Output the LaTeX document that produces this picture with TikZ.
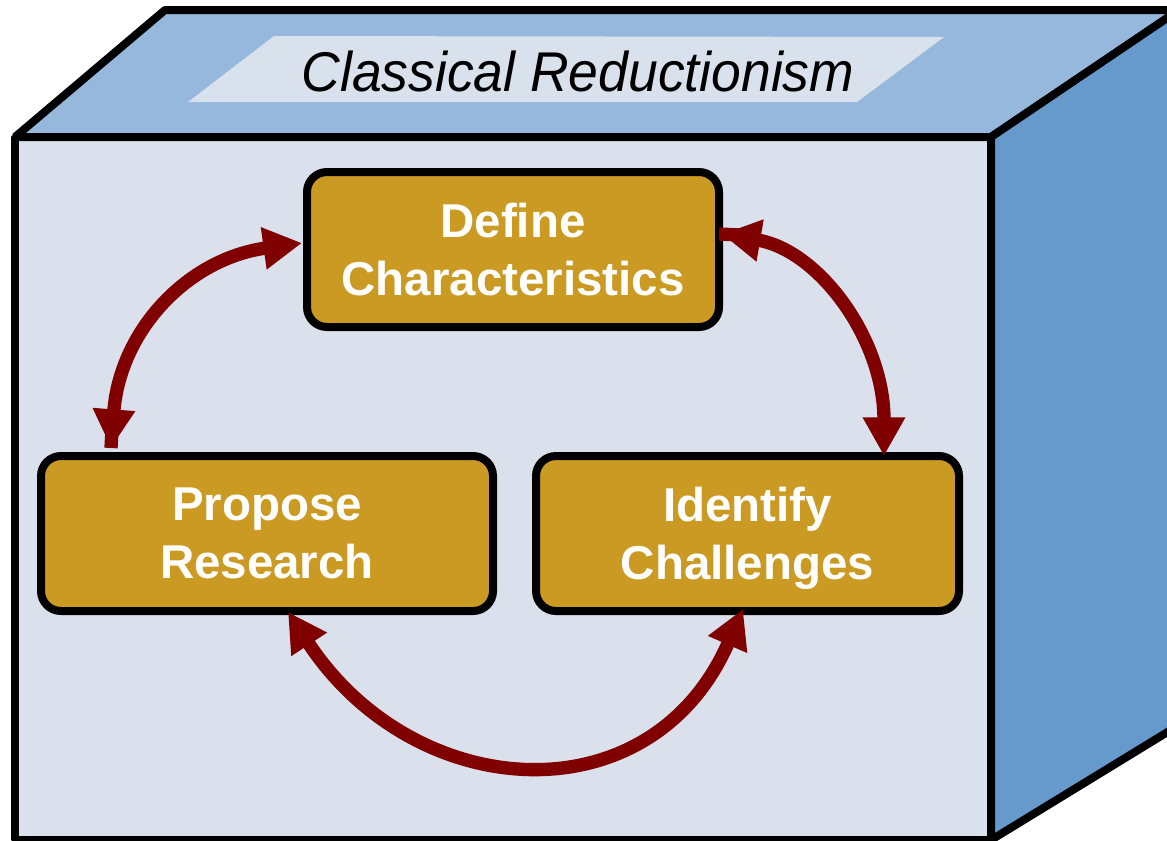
\documentclass[tikz,border=0pt]{standalone}
\usepackage{fontspec}
\setmainfont{Liberation Sans}
\usetikzlibrary{arrows.meta,calc}
\definecolor{topface}{HTML}{95B8DC}
\definecolor{frontface}{HTML}{DAE1ED}
\definecolor{sideface}{HTML}{6699CC}
\definecolor{titlebg}{HTML}{D9E1EC}
\definecolor{boxfill}{HTML}{CA9A22}
\definecolor{arrowred}{HTML}{800000}
\begin{document}
\begin{tikzpicture}[x=0.75pt,y=-0.75pt,
  cube/.style={draw=black,line width=6pt,line join=bevel},
  stepbox/.style={draw=black,line width=6pt,fill=boxfill,rounded corners=15pt,
    inner sep=0pt,align=center,text=white,minimum height=116.25pt,
    font=\fontsize{35.6}{43.5}\bfseries\selectfont},
  conn/.style={draw=arrowred,line width=10pt},
  tips/.style={{Triangle[length=29pt,width=30pt]}-{Triangle[length=29pt,width=30pt]}}
]
\useasboundingbox (0,0) rectangle (1167,840);
\clip (0,0) rectangle (1167,840);
% cube
\path[cube,fill=frontface] (15,137) rectangle (991,840);
\path[cube,fill=topface] (15,137) -- (165,10) -- (1179,10) -- (991,137) -- cycle;
\path[cube,fill=sideface] (991,137) -- (1179,10) -- (1179,725) -- (991,840) -- cycle;
% title
\fill[titlebg] (274,36) -- (944,37) -- (857,102) -- (188,102) -- cycle;
\node[font=\fontsize{42}{50}\itshape\selectfont,anchor=base,inner sep=0pt] (title) at (578,91) {\scalebox{0.955}[1]{Classical Reductionism}};
% boxes
\node[stepbox,minimum width=309pt] (def) at (513,249.5) {Define\\Characteristics};
\node[stepbox,minimum width=339pt] (prop) at (267,533.5) {Propose\\Research};
\node[stepbox,minimum width=317.25pt] (ident) at (747.5,533.5) {Identify\\\raisebox{0pt}[\height][0pt]{Challenges}};
% connector end points
\coordinate (la) at ($(prop.north west)+(74,-4)$);
\coordinate (lb) at ($(def.west)+(-1,-6.5)$);
\coordinate (ra) at ($(def.east)+(-1,-15.5)$);
\coordinate (rb) at ($(ident.north)+(136.5,4)$);
\coordinate (ba) at ($(prop.south)+(21,-3)$);
\coordinate (bb) at ($(ident.south)+(-4.5,-6)$);
% connectors
\draw[conn] (la) -- ++(1,-18);
\draw[conn] ($(ra)+(-3,0)$) -- ++(21,1);
\draw[conn,tips] (la) .. controls +(9,-117) and +(-115,16) .. (lb);
\draw[conn,tips] (ra) .. controls +(97,16.5) and +(0,-117) .. (rb);
\draw[conn,tips] (ba) .. controls +(126,192) and +(-92,211) .. (bb);
\end{tikzpicture}
\end{document}
